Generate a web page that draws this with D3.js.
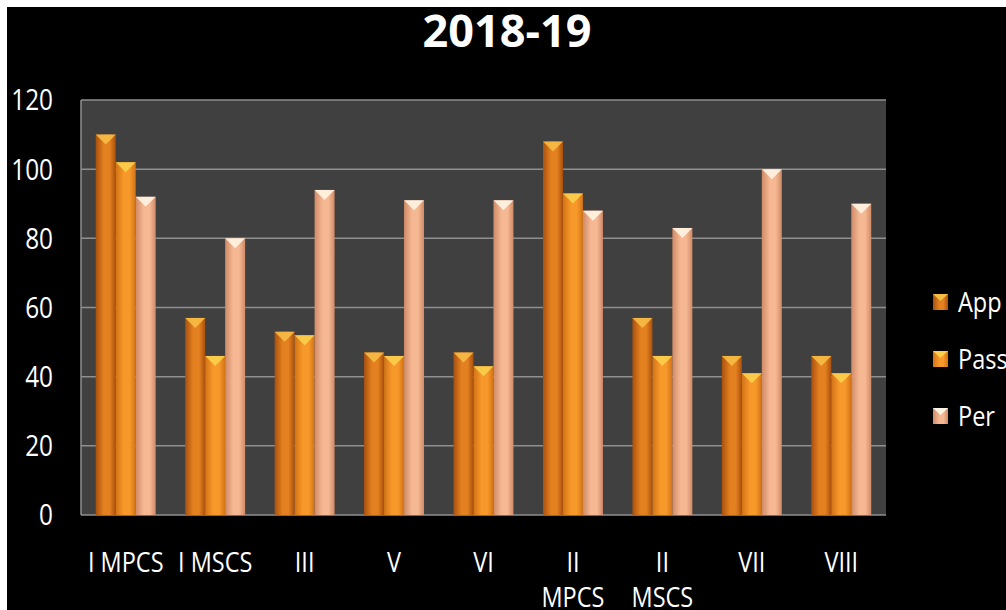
<!DOCTYPE html>
<html>
<head>
  <meta charset="utf-8">
  <script src="https://d3js.org/d3.v7.min.js"></script>
  <style>
    body { margin: 0; background: #ffffff; }
    text { font-family: "Open Sans", sans-serif; fill: #ffffff; }
  </style>
</head>
<body>
  <div id="chart"></div>
<script>
  const categories = ["I MPCS", "I MSCS", "III", "V", "VI", "II MPCS", "II MSCS", "VII", "VIII"];
  const tickLabels = [["I MPCS"], ["I MSCS"], ["III"], ["V"], ["VI"], ["II", "MPCS"], ["II", "MSCS"], ["VII"], ["VIII"]];
  const seriesNames = ["App", "Pass", "Per"];
  const app = [110, 57, 53, 47, 47, 108, 57, 46, 46];
  const pass = [102, 46, 52, 46, 43, 93, 46, 41, 41];
  const per = [92, 80, 94, 91, 91, 88, 83, 100, 90];
  const yTicks = [0, 20, 40, 60, 80, 100, 120];

  const width = 1006;
  const height = 610;
  const plot = { left: 81, right: 886, top: 100, bottom: 515 };
  // the original uses a narrow font; squeeze Open Sans horizontally
  const squeeze = 0.84;

  const svg = d3.select("#chart").append("svg")
    .attr("width", width)
    .attr("height", height);

  // black slide area, thin white border on top and left
  svg.append("rect")
    .attr("x", 7).attr("y", 7)
    .attr("width", width - 7).attr("height", height - 7)
    .attr("fill", "#000000");

  const defs = svg.append("defs");
  const colors = {
    App: { edge: "#a9500e", mid: "#e3801f", cap: "#f6bd45" },
    Pass: { edge: "#d27315", mid: "#f7982b", cap: "#fbcf4c" },
    Per: { edge: "#d08a68", mid: "#f5b892", cap: "#fff4e4" }
  };
  seriesNames.forEach(s => {
    const g = defs.append("linearGradient")
      .attr("id", "grad-" + s)
      .attr("x1", "0%").attr("x2", "100%").attr("y1", "0%").attr("y2", "0%");
    g.append("stop").attr("offset", "0%").attr("stop-color", colors[s].edge);
    g.append("stop").attr("offset", "40%").attr("stop-color", colors[s].mid);
    g.append("stop").attr("offset", "70%").attr("stop-color", colors[s].mid);
    g.append("stop").attr("offset", "100%").attr("stop-color", colors[s].edge);
  });

  const x = d3.scaleBand()
    .domain(categories)
    .range([plot.left, plot.right])
    .paddingInner(0.33)
    .paddingOuter(0.165);

  const xSub = d3.scaleBand()
    .domain(seriesNames)
    .range([0, x.bandwidth()]);

  const y = d3.scaleLinear()
    .domain([0, 120])
    .range([plot.bottom, plot.top]);

  // plot area
  svg.append("rect")
    .attr("x", plot.left).attr("y", plot.top)
    .attr("width", plot.right - plot.left).attr("height", plot.bottom - plot.top)
    .attr("fill", "#404040");

  svg.append("g")
    .selectAll("line")
    .data(yTicks)
    .join("line")
    .attr("x1", plot.left).attr("x2", plot.right)
    .attr("y1", d => y(d)).attr("y2", d => y(d))
    .attr("stroke", "#8f8f8f")
    .attr("stroke-width", 1.5);

  svg.append("line")
    .attr("x1", plot.left).attr("x2", plot.left)
    .attr("y1", plot.top).attr("y2", plot.bottom)
    .attr("stroke", "#8f8f8f").attr("stroke-width", 1.5);

  // y labels
  svg.append("g")
    .selectAll("text")
    .data(yTicks)
    .join("text")
    .attr("transform", d => `translate(53, ${y(d)}) scale(${squeeze}, 1)`)
    .attr("dy", "0.36em")
    .attr("text-anchor", "end")
    .style("font-size", "29px")
    .text(d => d);

  const table = categories.map((c, i) => ({
    cat: c,
    values: [
      { key: "App", value: app[i] },
      { key: "Pass", value: pass[i] },
      { key: "Per", value: per[i] }
    ]
  }));

  const groups = svg.append("g")
    .selectAll("g")
    .data(table)
    .join("g")
    .attr("transform", d => `translate(${x(d.cat)},0)`);

  const bars = groups.selectAll("g")
    .data(d => d.values)
    .join("g");

  bars.append("rect")
    .attr("x", d => xSub(d.key))
    .attr("y", d => y(d.value))
    .attr("width", xSub.bandwidth())
    .attr("height", d => y(0) - y(d.value))
    .attr("fill", d => `url(#grad-${d.key})`);

  bars.append("path")
    .attr("d", d => {
      const x0 = xSub(d.key), w = xSub.bandwidth(), y0 = y(d.value);
      return `M${x0},${y0} L${x0 + w},${y0} L${x0 + w / 2},${y0 + 10} Z`;
    })
    .attr("fill", d => colors[d.key].cap)
    .attr("opacity", 0.9);

  // x labels
  svg.append("g")
    .selectAll("text")
    .data(categories)
    .join("text")
    .attr("transform", d => `translate(${x(d) + x.bandwidth() / 2}, 572) scale(${squeeze}, 1)`)
    .attr("text-anchor", "middle")
    .style("font-size", "28px")
    .each(function (d, i) {
      d3.select(this).selectAll("tspan")
        .data(tickLabels[i])
        .join("tspan")
        .attr("x", 0)
        .attr("dy", (t, j) => j === 0 ? 0 : 35)
        .text(t => t);
    });

  // title
  svg.append("text")
    .attr("x", 507)
    .attr("y", 47)
    .attr("text-anchor", "middle")
    .style("font-weight", "bold")
    .style("font-size", "45px")
    .text("2018-19");

  // legend
  const legend = svg.append("g")
    .selectAll("g")
    .data(seriesNames)
    .join("g")
    .attr("transform", (d, i) => `translate(933, ${302 + i * 57})`);

  legend.append("rect")
    .attr("x", 0).attr("y", -8)
    .attr("width", 15).attr("height", 16)
    .attr("fill", d => `url(#grad-${d})`);

  legend.append("path")
    .attr("d", "M0,-8 L15,-8 L7.5,-1 Z")
    .attr("fill", d => colors[d].cap);

  legend.append("text")
    .attr("transform", `translate(25, 0) scale(${squeeze}, 1)`)
    .attr("dy", "0.36em")
    .style("font-size", "28px")
    .text(d => d);
</script>
</body>
</html>
